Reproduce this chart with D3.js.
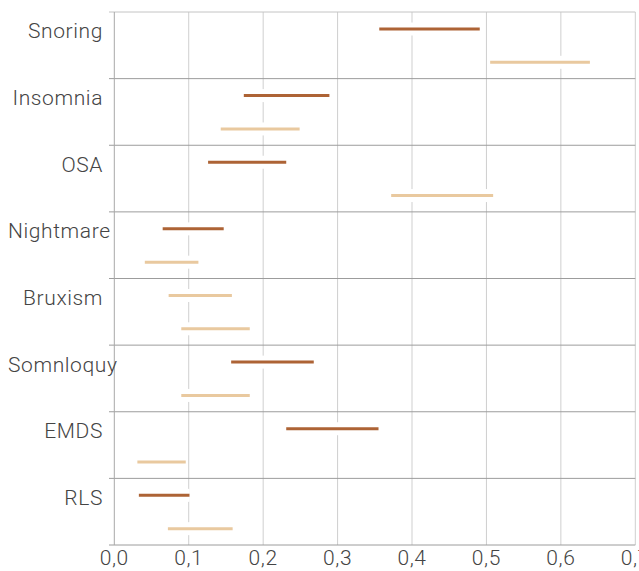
<!DOCTYPE html>
<html>
<head>
<meta charset="utf-8">
<script src="https://cdn.jsdelivr.net/npm/d3@7"></script>
<style>
  body { margin: 0; background: #fff; }
  svg { display: block; font-family: Roboto, sans-serif; font-weight: 300; }
</style>
</head>
<body>
<svg id="chart" width="639" height="571"></svg>
<script>
// Categories (rows, top to bottom)
const categories = ['Snoring', 'Insomnia', 'OSA', 'Nightmare', 'Bruxism', 'Somnloquy', 'EMDS', 'RLS'];

// Upper bar of each row (range low / high)
const upperLow  = [0.356, 0.174, 0.126, 0.065, 0.073, 0.157, 0.231, 0.033];
const upperHigh = [0.491, 0.289, 0.231, 0.147, 0.158, 0.268, 0.355, 0.101];
// which series colour the upper bar uses
const upperSeries = ['dark', 'dark', 'dark', 'dark', 'light', 'dark', 'dark', 'dark'];

// Lower bar of each row
const lowerLow  = [0.505, 0.143, 0.372, 0.041, 0.090, 0.090, 0.031, 0.072];
const lowerHigh = [0.639, 0.249, 0.509, 0.113, 0.182, 0.182, 0.096, 0.159];

const xTicks = [0, 0.1, 0.2, 0.3, 0.4, 0.5, 0.6, 0.7];

const colors = { dark: '#ad6335', light: '#e9c99f' };

const svg = d3.select('#chart');

const x = d3.scaleLinear().domain([0, 0.7]).range([114.3, 635.3]);
const y = d3.scaleBand().domain(categories).range([12, 545]).padding(0);
const bw = y.bandwidth();

const fmt = d3.formatLocale({ decimal: ',', thousands: '.', grouping: [3], currency: ['', ''] }).format('.1f');

// vertical grid lines
svg.append('g')
  .selectAll('line')
  .data(xTicks.slice(1))
  .join('line')
  .attr('x1', d => x(d)).attr('x2', d => x(d))
  .attr('y1', 12).attr('y2', 545)
  .attr('stroke', '#cfcfcf')
  .attr('stroke-width', 1);

// top line
svg.append('line')
  .attr('x1', 109).attr('x2', x(0.7))
  .attr('y1', 12).attr('y2', 12)
  .attr('stroke', '#c4c4c4');

// row separators + bottom line
const bounds = categories.slice(1).map(c => y(c)).concat([545]);
svg.append('g')
  .selectAll('line')
  .data(bounds)
  .join('line')
  .attr('x1', 109).attr('x2', x(0.7))
  .attr('y1', d => d).attr('y2', d => d)
  .attr('stroke', '#9c9c9c');

// left axis line
svg.append('line')
  .attr('x1', x(0)).attr('x2', x(0))
  .attr('y1', 12).attr('y2', 545)
  .attr('stroke', '#a8a8a8');

// build bar rows
const bars = [];
categories.forEach((c, i) => {
  bars.push({ cat: c, lo: upperLow[i], hi: upperHigh[i], y: y(c) + bw * 0.255, color: colors[upperSeries[i]] });
  bars.push({ cat: c, lo: lowerLow[i], hi: lowerHigh[i], y: y(c) + bw * 0.755, color: colors.light });
});

const barG = svg.append('g');

// white halo behind bars (cuts the grid lines)
barG.selectAll('rect.halo')
  .data(bars)
  .join('rect')
  .attr('class', 'halo')
  .attr('x', d => x(d.lo))
  .attr('width', d => x(d.hi) - x(d.lo))
  .attr('y', d => d.y - 6.5)
  .attr('height', 13)
  .attr('fill', '#fff');

barG.selectAll('line.bar')
  .data(bars)
  .join('line')
  .attr('class', 'bar')
  .attr('x1', d => x(d.lo)).attr('x2', d => x(d.hi))
  .attr('y1', d => d.y).attr('y2', d => d.y)
  .attr('stroke', d => d.color)
  .attr('stroke-width', 3);

// category labels: right-aligned, long ones start at the left margin instead
svg.append('g')
  .selectAll('text')
  .data(categories)
  .join('text')
  .attr('y', d => y(d) + bw * 0.255 + 9.5)
  .attr('font-size', 21)
  .attr('letter-spacing', 0.6)
  .attr('fill', '#444')
  .text(d => d)
  .attr('x', function () {
    const w = this.getComputedTextLength();
    return Math.max(8, 103 - w);
  });

// x tick labels
svg.append('g')
  .selectAll('text')
  .data(xTicks)
  .join('text')
  .attr('x', d => x(d))
  .attr('y', 565)
  .attr('text-anchor', 'middle')
  .attr('font-size', 21)
  .attr('letter-spacing', 0.6)
  .attr('fill', '#444')
  .text(d => fmt(d));
</script>
</body>
</html>
